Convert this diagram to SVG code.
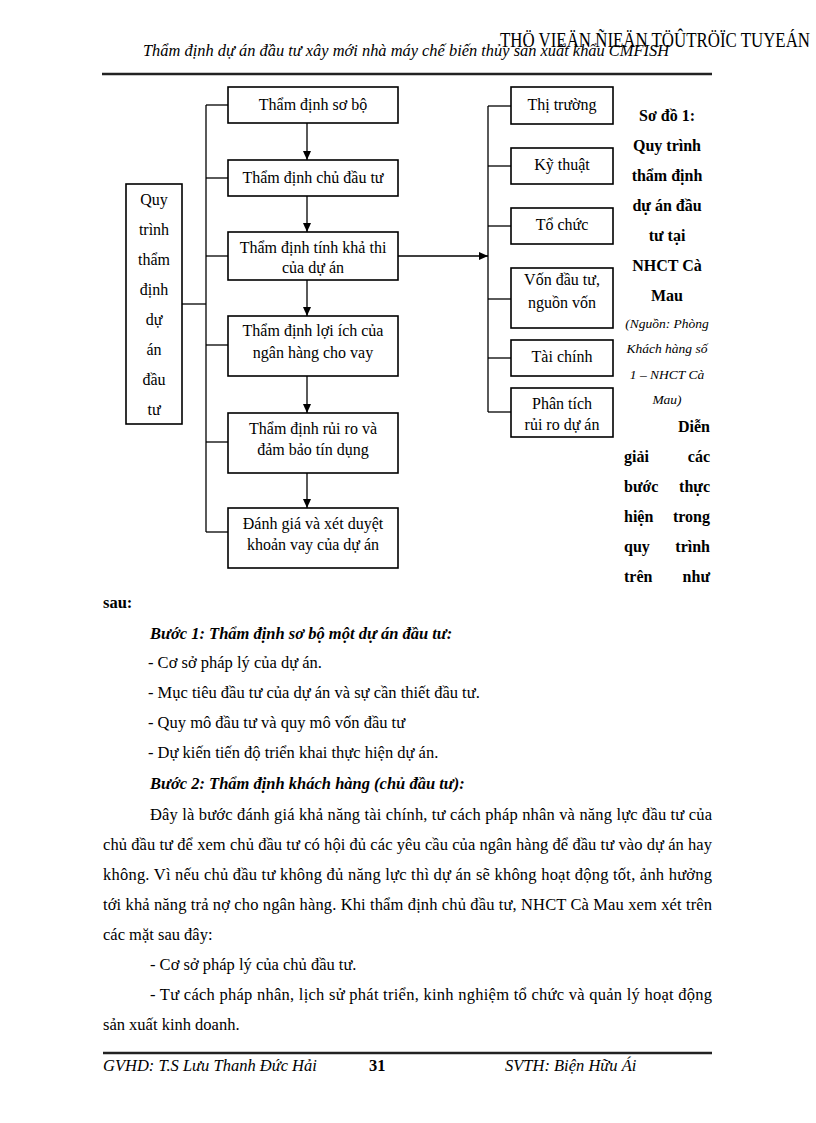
<svg xmlns="http://www.w3.org/2000/svg" width="816" height="1123" viewBox="0 0 816 1123">
<defs>
<marker id="ah" markerWidth="10" markerHeight="10" refX="9" refY="5" orient="auto" markerUnits="userSpaceOnUse">
<path d="M0,1 L9,5 L0,9 Z" fill="#000"/>
</marker>
<style>
.t{font-family:"Liberation Serif","Times New Roman",serif;font-size:16px;fill:#000}
.p{font-size:16.5px}
.c{text-anchor:middle}
.b{font-weight:bold}
.i{font-style:italic}
.box{fill:#fff;stroke:#000;stroke-width:1.6}
.ln{fill:none;stroke:#000;stroke-width:1.3}
</style>
</defs>
<rect width="816" height="1123" fill="#fff"/>

<!-- header -->
<text class="t" x="500" y="47" style="font-size:20px" textLength="310" lengthAdjust="spacingAndGlyphs">THÖ VIEÄN ÑIEÄN TÖÛTRÖÏC TUYEÁN</text>
<text class="t i" x="143" y="56" style="font-size:16.5px" textLength="526" lengthAdjust="spacingAndGlyphs">Thẩm định dự án đầu tư xây mới nhà máy chế biến thủy sản xuất khẩu CMFISH</text>
<line x1="102" y1="74" x2="712" y2="74" stroke="#222" stroke-width="2.5"/>

<!-- connectors -->
<g id="connectors" class="ln">
<polyline points="206,105 206,532"/>
<line x1="206" y1="105" x2="228" y2="105"/>
<line x1="206" y1="178" x2="228" y2="178"/>
<line x1="206" y1="256" x2="228" y2="256"/>
<line x1="206" y1="345" x2="228" y2="345"/>
<line x1="206" y1="442" x2="228" y2="442"/>
<line x1="206" y1="532" x2="228" y2="532"/>
<line x1="182" y1="304" x2="206" y2="304"/>
<line x1="307" y1="123" x2="307" y2="160" marker-end="url(#ah)"/>
<line x1="307" y1="196" x2="307" y2="232" marker-end="url(#ah)"/>
<line x1="307" y1="280" x2="307" y2="316" marker-end="url(#ah)"/>
<line x1="307" y1="376" x2="307" y2="413" marker-end="url(#ah)"/>
<line x1="307" y1="473" x2="307" y2="508" marker-end="url(#ah)"/>
<line x1="398" y1="256" x2="488" y2="256" marker-end="url(#ah)"/>
<polyline points="488,106 488,412"/>
<line x1="488" y1="106" x2="511" y2="106"/>
<line x1="488" y1="166" x2="511" y2="166"/>
<line x1="488" y1="226" x2="511" y2="226"/>
<line x1="488" y1="299" x2="511" y2="299"/>
<line x1="488" y1="358" x2="511" y2="358"/>
<line x1="488" y1="412" x2="511" y2="412"/>
</g>

<!-- left node -->
<g id="quy-trinh">
<rect class="box" x="126" y="184" width="56" height="240"/>
<text class="t c" x="154" y="205">Quy</text>
<text class="t c" x="154" y="235">trình</text>
<text class="t c" x="154" y="265">thẩm</text>
<text class="t c" x="154" y="295">định</text>
<text class="t c" x="154" y="325">dự</text>
<text class="t c" x="154" y="355">án</text>
<text class="t c" x="154" y="385">đầu</text>
<text class="t c" x="154" y="415">tư</text>
</g>

<!-- main column -->
<g id="tham-dinh-so-bo">
<rect class="box" x="228" y="87" width="170" height="36"/>
<text class="t c" x="313" y="110">Thẩm định sơ bộ</text>
</g>
<g id="tham-dinh-chu-dau-tu">
<rect class="box" x="228" y="160" width="170" height="36"/>
<text class="t c" x="313" y="183">Thẩm định chủ đầu tư</text>
</g>
<g id="tham-dinh-kha-thi">
<rect class="box" x="228" y="232" width="170" height="48"/>
<text class="t c" x="313" y="253">Thẩm định tính khả thi</text>
<text class="t c" x="313" y="273">của dự án</text>
</g>
<g id="tham-dinh-loi-ich">
<rect class="box" x="228" y="316" width="170" height="60"/>
<text class="t c" x="313" y="336">Thẩm định lợi ích của</text>
<text class="t c" x="313" y="358">ngân hàng cho vay</text>
</g>
<g id="tham-dinh-rui-ro">
<rect class="box" x="228" y="413" width="170" height="60"/>
<text class="t c" x="313" y="434">Thẩm định rủi ro và</text>
<text class="t c" x="313" y="455">đảm bảo tín dụng</text>
</g>
<g id="danh-gia">
<rect class="box" x="228" y="508" width="170" height="60"/>
<text class="t c" x="313" y="529">Đánh giá và xét duyệt</text>
<text class="t c" x="313" y="550">khoản vay của dự án</text>
</g>

<!-- right column -->
<g id="thi-truong">
<rect class="box" x="511" y="87" width="102" height="37"/>
<text class="t c" x="562" y="110">Thị trường</text>
</g>
<g id="ky-thuat">
<rect class="box" x="511" y="148" width="102" height="36"/>
<text class="t c" x="562" y="170">Kỹ thuật</text>
</g>
<g id="to-chuc">
<rect class="box" x="511" y="208" width="102" height="36"/>
<text class="t c" x="562" y="230">Tổ chức</text>
</g>
<g id="von-dau-tu">
<rect class="box" x="511" y="268" width="102" height="60"/>
<text class="t c" x="562" y="285">Vốn đầu tư,</text>
<text class="t c" x="562" y="308">nguồn vốn</text>
</g>
<g id="tai-chinh">
<rect class="box" x="511" y="340" width="102" height="36"/>
<text class="t c" x="562" y="362">Tài chính</text>
</g>
<g id="phan-tich">
<rect class="box" x="511" y="388" width="102" height="49"/>
<text class="t c" x="562" y="409">Phân tích</text>
<text class="t c" x="562" y="430">rủi ro dự án</text>
</g>

<!-- caption -->
<g id="caption">
<text class="t c b" x="667" y="121">Sơ đồ 1:</text>
<text class="t c b" x="667" y="151">Quy trình</text>
<text class="t c b" x="667" y="181">thẩm định</text>
<text class="t c b" x="667" y="211">dự án đầu</text>
<text class="t c b" x="667" y="241">tư tại</text>
<text class="t c b" x="667" y="271">NHCT Cà</text>
<text class="t c b" x="667" y="301">Mau</text>
<text class="t c i" x="667" y="328" style="font-size:13.5px">(Nguồn: Phòng</text>
<text class="t c i" x="667" y="353" style="font-size:13.5px">Khách hàng số</text>
<text class="t c i" x="667" y="379" style="font-size:13.5px">1 – NHCT Cà</text>
<text class="t c i" x="667" y="404" style="font-size:13.5px">Mau)</text>
<text class="t b" x="710" y="432" text-anchor="end">Diễn</text>
<text class="t b" x="624" y="462">giải</text><text class="t b" x="710" y="462" text-anchor="end">các</text>
<text class="t b" x="624" y="492">bước</text><text class="t b" x="710" y="492" text-anchor="end">thực</text>
<text class="t b" x="624" y="522">hiện</text><text class="t b" x="710" y="522" text-anchor="end">trong</text>
<text class="t b" x="624" y="552">quy</text><text class="t b" x="710" y="552" text-anchor="end">trình</text>
<text class="t b" x="624" y="582">trên</text><text class="t b" x="710" y="582" text-anchor="end">như</text>
</g>

<!-- body text -->
<text class="t p b" x="103" y="608">sau:</text>
<text class="t p b i" x="150" y="639">Bước 1: Thẩm định sơ bộ một dự án đầu tư:</text>
<text class="t p" x="148" y="668">- Cơ sở pháp lý của dự án.</text>
<text class="t p" x="148" y="698">- Mục tiêu đầu tư của dự án và sự cần thiết đầu tư.</text>
<text class="t p" x="148" y="728">- Quy mô đầu tư và quy mô vốn đầu tư</text>
<text class="t p" x="148" y="758">- Dự kiến tiến độ triển khai thực hiện dự án.</text>
<text class="t p b i" x="150" y="789">Bước 2: Thẩm định khách hàng (chủ đầu tư):</text>
<text class="t p" x="150" y="820" textLength="562" lengthAdjust="spacing">Đây là bước đánh giá khả năng tài chính, tư cách pháp nhân và năng lực đầu tư của</text>
<text class="t p" x="103" y="850" textLength="609" lengthAdjust="spacing">chủ đầu tư để xem chủ đầu tư có hội đủ các yêu cầu của ngân hàng để đầu tư vào dự án hay</text>
<text class="t p" x="103" y="880" textLength="609" lengthAdjust="spacing">không. Vì nếu chủ đầu tư không đủ năng lực thì dự án sẽ không hoạt động tốt, ảnh hưởng</text>
<text class="t p" x="103" y="910" textLength="609" lengthAdjust="spacing">tới khả năng trả nợ cho ngân hàng. Khi thẩm định chủ đầu tư, NHCT Cà Mau xem xét trên</text>
<text class="t p" x="103" y="940">các mặt sau đây:</text>
<text class="t p" x="150" y="970">- Cơ sở pháp lý của chủ đầu tư.</text>
<text class="t p" x="150" y="1000" textLength="562" lengthAdjust="spacing">- Tư cách pháp nhân, lịch sử phát triển, kinh nghiệm tổ chức và quản lý hoạt động</text>
<text class="t p" x="103" y="1030">sản xuất kinh doanh.</text>

<!-- footer -->
<line x1="103" y1="1053" x2="712" y2="1053" stroke="#222" stroke-width="2.5"/>
<text class="t p i" x="103" y="1071">GVHD: T.S Lưu Thanh Đức Hải</text>
<text class="t p b" x="369" y="1071">31</text>
<text class="t p i" x="505" y="1071">SVTH: Biện Hữu Ái</text>
</svg>
